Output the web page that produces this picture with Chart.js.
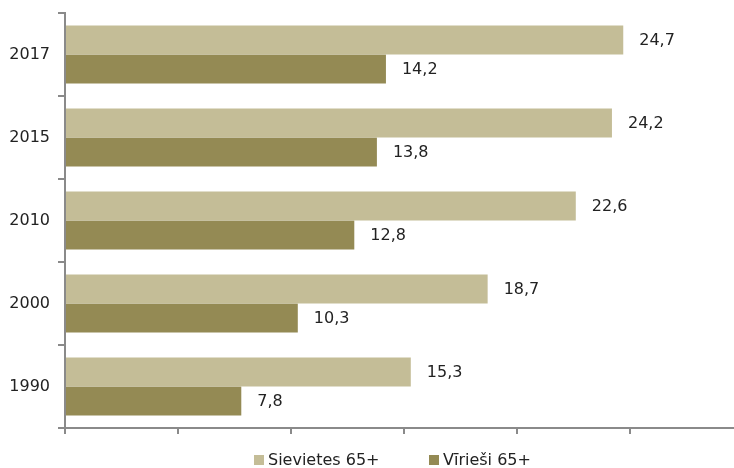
<!DOCTYPE html>
<html>
<head>
<meta charset="utf-8">
<script src="https://cdn.jsdelivr.net/npm/chart.js@4"></script>
<style>
  html, body { margin: 0; padding: 0; background: #fff; }
  #wrap { position: relative; width: 734px; height: 468px; }
  #legend { position: absolute; top: 450px; left: 0; width: 734px; height: 18px;
    font-family: "DejaVu Sans", Verdana, sans-serif; font-size: 16px; color: #222; }
  .item { position: absolute; top: 0; white-space: nowrap; }
  .box { display: inline-block; width: 10px; height: 10px; margin-right: 4px; vertical-align: 0px; }
</style>
</head>
<body>
<div id="wrap">
  <canvas id="chart" width="734" height="468"></canvas>
  <div id="legend"></div>
</div>
<script>
const years = ["2017", "2015", "2010", "2000", "1990"];
const women = [24.7, 24.2, 22.6, 18.7, 15.3];
const men = [14.2, 13.8, 12.8, 10.3, 7.8];
const xTicks = [0, 5, 10, 15, 20, 25];
const seriesNames = ["Sievietes 65+", "Vīrieši 65+"];
const seriesColors = ["#c4bd97", "#948a54"];

const axisColor = "#8a8a8a";
const fontFamily = "'DejaVu Sans', Verdana, sans-serif";

// value labels to the right of each bar, with a decimal comma
const valueLabels = {
  id: "valueLabels",
  afterDatasetsDraw(chart) {
    const ctx = chart.ctx;
    ctx.save();
    ctx.font = "16px " + fontFamily;
    ctx.fillStyle = "#222";
    ctx.textBaseline = "middle";
    ctx.textAlign = "left";
    chart.data.datasets.forEach((ds, i) => {
      chart.getDatasetMeta(i).data.forEach((bar, j) => {
        const text = ds.data[j].toFixed(1).replace(".", ",");
        ctx.fillText(text, bar.x + 16, bar.y + 1);
      });
    });
    ctx.restore();
  }
};

new Chart(document.getElementById("chart"), {
  type: "bar",
  data: {
    labels: years,
    datasets: [
      { label: seriesNames[0], data: women, backgroundColor: seriesColors[0] },
      { label: seriesNames[1], data: men, backgroundColor: seriesColors[1] }
    ]
  },
  options: {
    indexAxis: "y",
    responsive: false,
    animation: false,
    layout: { padding: { top: 13, right: 0, left: 0, bottom: 0 } },
    datasets: {
      bar: { categoryPercentage: 0.7, barPercentage: 1.0 }
    },
    plugins: {
      legend: { display: false },
      tooltip: { enabled: false }
    },
    scales: {
      x: {
        min: 0,
        max: 29.6,
        afterBuildTicks: (axis) => {
          axis.ticks = xTicks.map((v) => ({ value: v }));
        },
        afterFit: (axis) => { axis.height = 40; },
        ticks: { display: false },
        grid: { drawOnChartArea: false, drawTicks: true, tickLength: 6, color: axisColor, lineWidth: 2 },
        border: { color: axisColor, width: 2 }
      },
      y: {
        afterFit: (axis) => {
          axis.width = 65;
          axis.paddingTop = 0;
          axis.paddingBottom = 0;
        },
        ticks: { color: "#222", font: { family: fontFamily, size: 16 }, padding: 8 },
        grid: { offset: true, drawOnChartArea: false, drawTicks: true, tickLength: 7, color: axisColor, lineWidth: 2 },
        border: { color: axisColor, width: 2 }
      }
    }
  },
  plugins: [valueLabels]
});

// legend below the plot
const legend = document.getElementById("legend");
const legendLeft = [254, 429];
seriesNames.forEach((name, i) => {
  const item = document.createElement("span");
  item.className = "item";
  item.style.left = legendLeft[i] + "px";
  const box = document.createElement("span");
  box.className = "box";
  box.style.background = seriesColors[i];
  item.appendChild(box);
  item.appendChild(document.createTextNode(name));
  legend.appendChild(item);
});
</script>
</body>
</html>
